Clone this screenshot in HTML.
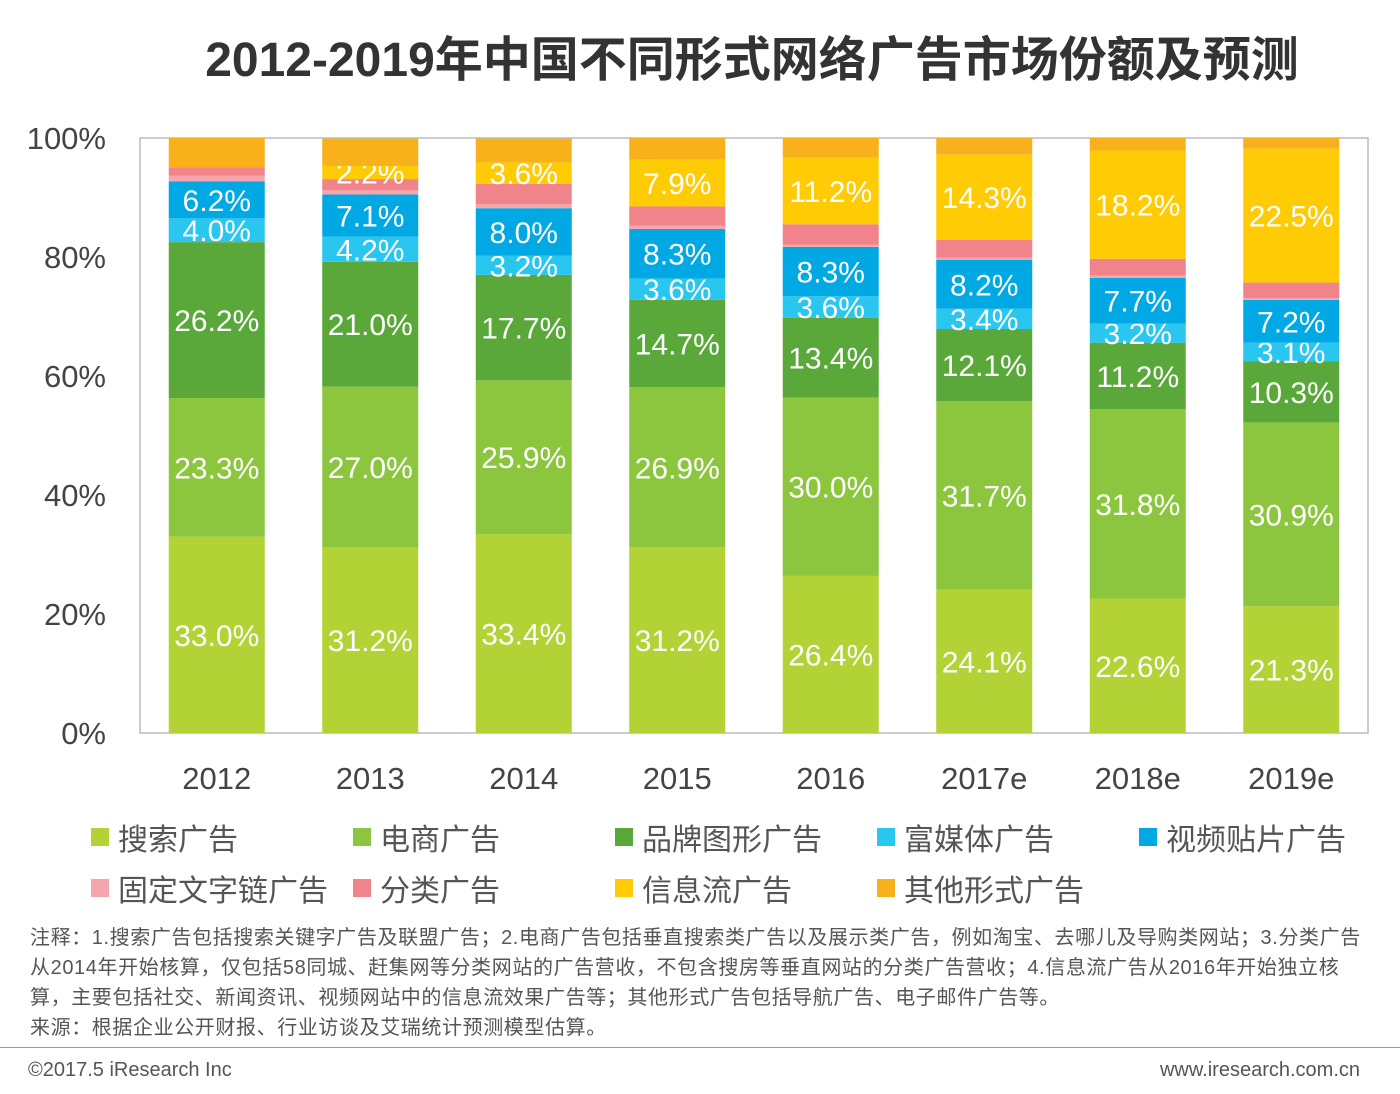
<!DOCTYPE html>
<html><head><meta charset="utf-8">
<style>
body{margin:0;background:#fff;width:1400px;height:1094px;overflow:hidden;font-family:"Liberation Sans","Noto Sans CJK SC",sans-serif;}
#title{position:absolute;left:0;width:1400px;top:20px;text-align:center;font-size:48px;font-weight:bold;color:#333;padding-left:104px;box-sizing:border-box;}
.leg{position:absolute;font-size:30px;color:#555;display:flex;align-items:center;}
.leg i{display:inline-block;width:18px;height:18px;margin-right:9px;}
#note{position:absolute;left:30px;top:923px;width:1345px;font-size:20px;letter-spacing:0.6px;line-height:30px;color:#555;}
#foot{position:absolute;top:1047px;left:0;width:1400px;border-top:1px solid #999;}
.ft{position:absolute;top:1059px;font-size:20px;color:#555;}
</style></head><body>
<div id="title">2012-2019年中国不同形式网络广告市场份额及预测</div>
<svg id="chart" width="1400" height="800" style="position:absolute;left:0;top:0"></svg>
<div id="legend"></div>
<div id="note">注释：1.搜索广告包括搜索关键字广告及联盟广告；2.电商广告包括垂直搜索类广告以及展示类广告，例如淘宝、去哪儿及导购类网站；3.分类广告从2014年开始核算，仅包括58同城、赶集网等分类网站的广告营收，不包含搜房等垂直网站的分类广告营收；4.信息流广告从2016年开始独立核算，主要包括社交、新闻资讯、视频网站中的信息流效果广告等；其他形式广告包括导航广告、电子邮件广告等。<br>来源：根据企业公开财报、行业访谈及艾瑞统计预测模型估算。</div>
<div id="foot"></div>
<div class="ft" style="left:28px">©2017.5 iResearch Inc</div>
<div class="ft" style="right:40px">www.iresearch.com.cn</div>
<script>
const categories=["2012","2013","2014","2015","2016","2017e","2018e","2019e"];
const seriesNames=["搜索广告","电商广告","品牌图形广告","富媒体广告","视频贴片广告","固定文字链广告","分类广告","信息流广告","其他形式广告"];
const search=[33.0,31.2,33.4,31.2,26.4,24.1,22.6,21.3];
const ecommerce=[23.3,27.0,25.9,26.9,30.0,31.7,31.8,30.9];
const brand=[26.2,21.0,17.7,14.7,13.4,12.1,11.2,10.3];
const richMedia=[4.0,4.2,3.2,3.6,3.6,3.4,3.2,3.1];
const video=[6.2,7.1,8.0,8.3,8.3,8.2,7.7,7.2];
const fixedText=[1.0,0.7,0.7,0.6,0.4,0.4,0.4,0.3];
const classified=[1.4,1.9,3.4,3.2,3.4,3.0,2.8,2.6];
const feed=[0,2.2,3.6,7.9,11.2,14.3,18.2,22.5];
const other=[4.9,4.6,4.0,3.6,3.3,2.8,2.1,1.8];
const labeled=[true,true,true,true,true,false,false,true,false];
const yTicks=[0,20,40,60,80,100];
const series=[search,ecommerce,brand,richMedia,video,fixedText,classified,feed,other];
const colors=["#b2d235","#8cc63f","#5aa83a","#29c6ef","#00a8e4","#f5a5ab","#f0848a","#ffcb05","#f8b11b"];
const NS="http://www.w3.org/2000/svg";
const svg=document.getElementById('chart');
const L=140,R=1368,T=138,B=733;
const y=v=>B-(B-T)*v/100;
const step=(R-L)/categories.length;
const xc=i=>L+step*(i+0.5);
const bw=96;
function mk(tag,attrs){const e=document.createElementNS(NS,tag);for(const k in attrs)e.setAttribute(k,attrs[k]);svg.appendChild(e);return e;}
const frame=mk('rect',{x:L,y:T,width:R-L,height:B-T,fill:'none',stroke:'#bbb','stroke-width':1.5});


yTicks.forEach(t=>{const tx=mk('text',{x:106,y:y(t)+11,'text-anchor':'end','font-size':31,fill:'#444'});tx.textContent=t+'%';

});
categories.forEach((c,i)=>{
  let acc=0;
  series.forEach((s,k)=>{
    const v=s[i];
    const r=mk('rect',{x:xc(i)-bw/2,y:y(acc+v),width:bw,height:y(acc)-y(acc+v),fill:colors[k]});
    
    
    if(labeled[k]&&v>0){
      const t=mk('text',{x:xc(i),y:(y(acc)+y(acc+v))/2+11,'text-anchor':'middle','font-size':30,fill:'#fff'});
      t.textContent=v.toFixed(1)+'%';
      
      
    }
    acc+=v;
  });
  const xl=mk('text',{x:xc(i),y:789,'text-anchor':'middle','font-size':31,fill:'#444'});
  xl.textContent=c;
  
  
});
const legPos=[[91,835],[353,835],[615,835],[877,835],[1139,835],[91,886],[353,886],[615,886],[877,886]];
const lg=document.getElementById('legend');
seriesNames.forEach((n,k)=>{
  const d=document.createElement('div');d.className='leg';
  d.style.left=legPos[k][0]+'px';d.style.top=(legPos[k][1]-20)+'px';
  d.innerHTML='<i style="background:'+colors[k]+'"></i>'+n;
  
  
  lg.appendChild(d);
});
</script>
</body></html>
